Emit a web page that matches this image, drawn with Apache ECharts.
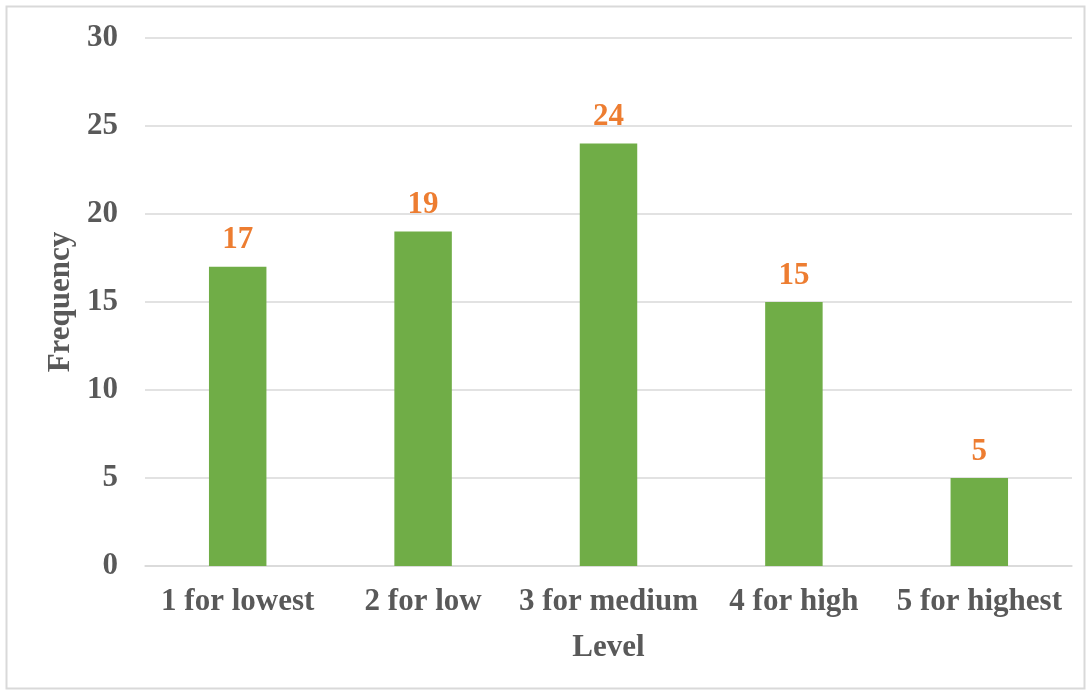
<!DOCTYPE html>
<html>
<head>
<meta charset="utf-8">
<script src="https://cdn.jsdelivr.net/npm/echarts@6/dist/echarts.min.js"></script>
<style>
  html, body { margin: 0; padding: 0; background: #fff; }
  #chart { width: 1089px; height: 693px; }
</style>
</head>
<body>
<div id="chart"></div>
<script>
// Frequency of responses per level
const categories = ['1 for lowest', '2 for low', '3 for medium', '4 for high', '5 for highest'];
const frequency = [17, 19, 24, 15, 5];
const yTicks = { min: 0, max: 30, interval: 5 };

const textGray = '#595959';
const serif = '"Liberation Serif", "Times New Roman", serif';
const fontSize = 31;

const chart = echarts.init(document.getElementById('chart'), null, { renderer: 'canvas' });
chart.setOption({
  backgroundColor: '#fff',
  animation: false,
  graphic: [{
    type: 'rect',
    shape: { x: 6.5, y: 6.5, width: 1078, height: 682 },
    style: { fill: 'none', stroke: '#d9d9d9', lineWidth: 2 },
    silent: true
  }],
  grid: { left: 145, right: 17, top: 38, bottom: 127, containLabel: false },
  xAxis: {
    type: 'category',
    data: categories,
    name: 'Level',
    nameLocation: 'middle',
    nameGap: 66,
    nameTextStyle: { color: textGray, fontFamily: serif, fontWeight: 'bold', fontSize: fontSize },
    axisLine: { show: true, lineStyle: { color: '#d9d9d9', width: 1.5 } },
    axisTick: { show: false },
    axisLabel: { interval: 0, color: textGray, fontFamily: serif, fontWeight: 'bold', fontSize: fontSize, margin: 20 }
  },
  yAxis: {
    type: 'value',
    min: yTicks.min,
    max: yTicks.max,
    interval: yTicks.interval,
    name: 'Frequency',
    nameLocation: 'middle',
    nameGap: 68,
    nameRotate: 90,
    nameTextStyle: { color: textGray, fontFamily: serif, fontWeight: 'bold', fontSize: fontSize },
    axisLine: { show: false },
    axisTick: { show: false },
    splitLine: { lineStyle: { color: '#d9d9d9', width: 1.5 } },
    axisLabel: { color: textGray, fontFamily: serif, fontWeight: 'bold', fontSize: fontSize, margin: 27 }
  },
  series: [{
    type: 'bar',
    data: frequency,
    barWidth: '31%',
    itemStyle: { color: '#70AD47' },
    label: {
      show: true,
      position: 'top',
      distance: 11,
      color: '#ED7D31',
      fontFamily: serif,
      fontWeight: 'bold',
      fontSize: fontSize
    }
  }]
});
</script>
</body>
</html>
